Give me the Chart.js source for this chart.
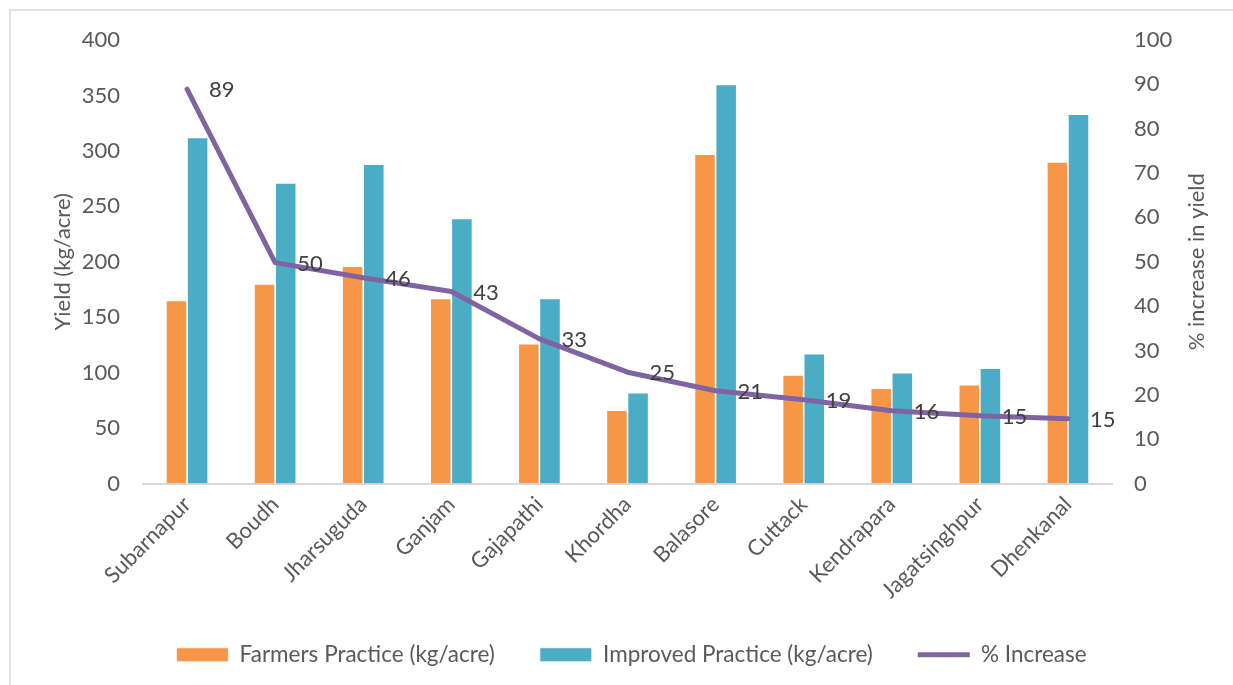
<!DOCTYPE html>
<html>
<head>
<meta charset="utf-8">
<script src="https://cdn.jsdelivr.net/npm/chart.js@4.4.1/dist/chart.umd.min.js"></script>
<style>
  html, body { margin: 0; padding: 0; background: #fff; }
  #wrap { width: 1233px; height: 685px; position: relative; }
</style>
</head>
<body>
<div id="wrap"><canvas id="chart"></canvas></div>
<script>
const districts = ["Subarnapur", "Boudh", "Jharsuguda", "Ganjam", "Gajapathi", "Khordha",
  "Balasore", "Cuttack", "Kendrapara", "Jagatsinghpur", "Dhenkanal"];
const farmersPractice = [165, 180, 196, 167, 126, 66, 297, 98, 86, 89, 290];
const improvedPractice = [312, 271, 288, 239, 167, 82, 360, 117, 100, 104, 333];
const pctIncrease = [88.9, 49.8, 46.4, 43.3, 32.6, 25.1, 20.9, 18.9, 16.4, 15.3, 14.6];
const yieldTicks = [0, 50, 100, 150, 200, 250, 300, 350, 400];
const pctTicks = [0, 10, 20, 30, 40, 50, 60, 70, 80, 90, 100];

const FONT = "Lato";
const grey = "#595959";

// thin frame at the left and top, like the Excel chart area
const framePlugin = {
  id: "frame",
  beforeDraw(chart) {
    const ctx = chart.ctx;
    ctx.save();
    ctx.strokeStyle = "#d9d9d9";
    ctx.lineWidth = 1.5;
    ctx.beginPath();
    ctx.moveTo(10, chart.height);
    ctx.lineTo(10, 10);
    ctx.lineTo(chart.width, 10);
    ctx.stroke();
    ctx.restore();
  }
};

// value labels to the right of each line point
const lineLabels = {
  id: "lineLabels",
  afterDatasetsDraw(chart) {
    const ctx = chart.ctx;
    const meta = chart.getDatasetMeta(2);
    ctx.save();
    ctx.font = "22px " + FONT;
    ctx.fillStyle = "#404040";
    ctx.textAlign = "left";
    ctx.textBaseline = "middle";
    meta.data.forEach((pt, i) => {
      ctx.fillText(pctIncrease[i].toFixed(0), pt.x + 22, pt.y + 1);
    });
    ctx.restore();
  }
};

// right axis title reads bottom-to-top in the original, chart.js turns it the other way
const rightTitle = {
  id: "rightTitle",
  afterDraw(chart) {
    const ctx = chart.ctx;
    const area = chart.chartArea;
    ctx.save();
    ctx.translate(1197, (area.top + area.bottom) / 2);
    ctx.rotate(-Math.PI / 2);
    ctx.font = "22px " + FONT;
    ctx.fillStyle = grey;
    ctx.textAlign = "center";
    ctx.textBaseline = "middle";
    ctx.fillText("% increase in yield", 0, 0);
    ctx.restore();
  }
};

new Chart(document.getElementById("chart"), {
  type: "bar",
  data: {
    labels: districts,
    datasets: [
      {
        label: "Farmers Practice (kg/acre)",
        data: farmersPractice,
        backgroundColor: "#F79646",
        borderColor: "#ffffff",
        borderWidth: 0.8,
        yAxisID: "y",
        categoryPercentage: 0.48,
        barPercentage: 1,
        pointStyle: "rect",
      },
      {
        label: "Improved Practice (kg/acre)",
        data: improvedPractice,
        backgroundColor: "#4BACC6",
        borderColor: "#ffffff",
        borderWidth: 0.8,
        yAxisID: "y",
        categoryPercentage: 0.48,
        barPercentage: 1,
        pointStyle: "rect",
      },
      {
        type: "line",
        label: "% Increase",
        data: pctIncrease,
        borderColor: "#8064A2",
        backgroundColor: "#8064A2",
        borderWidth: 5,
        borderCapStyle: "round",
        borderJoinStyle: "round",
        pointRadius: 0,
        tension: 0,
        yAxisID: "y1",
        order: -1,
        pointStyle: "line",
      },
    ],
  },
  options: {
    responsive: true,
    maintainAspectRatio: false,
    animation: false,
    layout: { padding: { top: 40, left: 30, right: 0, bottom: 9 } },
    plugins: {
      tooltip: { enabled: false },
      legend: {
        position: "bottom",
        labels: {
          usePointStyle: true,
          pointStyleWidth: 52,
          boxHeight: 14,
          padding: 45,
          color: grey,
          font: { family: FONT, size: 22.5 },
          sort: (a, b) => a.datasetIndex - b.datasetIndex,
        },
      },
    },
    scales: {
      x: {
        grid: { display: false, drawTicks: false },
        border: { display: true, color: "#d9d9d9", width: 2 },
        ticks: {
          autoSkip: false,
          minRotation: 45,
          maxRotation: 45,
          padding: 8,
          color: grey,
          font: { family: FONT, size: 22 },
        },
        afterFit: (scale) => { scale.height = 115; },
      },
      y: {
        position: "left",
        min: 0,
        max: 400,
        afterBuildTicks: (scale) => { scale.ticks = yieldTicks.map((v) => ({ value: v })); },
        grid: { display: false, drawTicks: false },
        border: { display: false },
        ticks: { padding: 23, color: grey, font: { family: FONT, size: 22 } },
        title: {
          display: true,
          text: "Yield (kg/acre)",
          color: grey,
          font: { family: FONT, size: 22 },
          padding: { top: 20, bottom: 0 },
        },
        afterFit: (scale) => { scale.width = 113; },
      },
      y1: {
        position: "right",
        min: 0,
        max: 100,
        afterBuildTicks: (scale) => { scale.ticks = pctTicks.map((v) => ({ value: v })); },
        grid: { display: false, drawTicks: false },
        border: { display: false },
        ticks: { padding: 22, color: grey, font: { family: FONT, size: 22 } },
        afterFit: (scale) => { scale.width = 121; },
      },
    },
  },
  plugins: [framePlugin, lineLabels, rightTitle],
});
</script>
</body>
</html>
